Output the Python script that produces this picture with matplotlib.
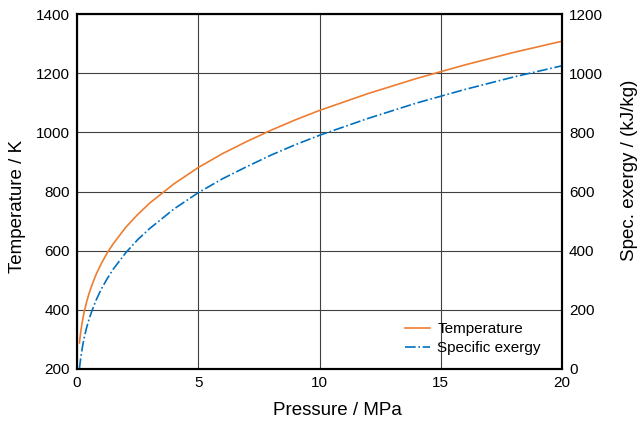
import matplotlib
matplotlib.use("Agg")
import matplotlib.pyplot as plt

plt.rcParams['font.family'] = ['Liberation Sans', 'DejaVu Sans']

# values
pressure = [0.1, 0.12, 0.15, 0.2, 0.25, 0.3, 0.4, 0.5, 0.6, 0.75, 0.8, 1, 1.25, 1.5,
            2, 2.5, 3, 4, 5, 6, 7, 8, 9, 10, 12, 14, 16, 18, 20]
temperature = [288, 303, 323, 351, 374, 394, 428, 456, 480, 512, 522, 556, 593, 624,
               678, 722, 761, 826, 881, 928, 969, 1007, 1042, 1074, 1131, 1182, 1228, 1270, 1308]
exergy = [0, 15, 35, 63, 86, 107, 141, 169, 193, 225, 235, 270, 306, 338,
          392, 437, 475, 541, 596, 643, 684, 723, 758, 790, 847, 899, 945, 987, 1025]

fig = plt.figure(figsize=(6.38, 4.24), dpi=100)
ax = fig.add_axes([77/638, 55/424, 485/638, 355/424])
ax2 = ax.twinx()

l1, = ax.plot(pressure, temperature, color='#ED7D31', lw=1.2, label='Temperature')
l2, = ax2.plot(pressure, exergy, color='#0070C0', lw=1.2, ls='-.', label='Specific exergy')

ax.set_xlim(0, 20)
ax.set_ylim(200, 1400)
ax2.set_ylim(0, 1200)
ax.set_xticks([0, 5, 10, 15, 20])
ax.set_yticks(range(200, 1401, 200))
ax2.set_yticks(range(0, 1201, 200))

ax.grid(True, color='#404040', lw=0.8)
ax.set_axisbelow(True)

for a in (ax, ax2):
    for s in a.spines.values():
        s.set_linewidth(1.5)
    a.tick_params(length=0, labelsize=11, pad=5)

ax.set_xlabel('Pressure / MPa', fontsize=13.5)
ax.set_ylabel('Temperature / K', fontsize=13.5)
ax2.set_ylabel('Spec. exergy / (kJ/kg)', fontsize=13.5)
# the labels in the reference sit a little off the axis centres
ax.xaxis.set_label_coords(0.536, -0.093)
ax.yaxis.set_label_coords(-0.106, 0.459)
ax2.yaxis.set_label_coords(1.122, 0.561)

ax2.legend(handles=[l1, l2], loc='lower right', frameon=False, fontsize=11,
           bbox_to_anchor=(0.985, 0.0), handlelength=1.6, handletextpad=0.5,
           labelspacing=0.35)

fig.savefig('out.png', dpi=100)
